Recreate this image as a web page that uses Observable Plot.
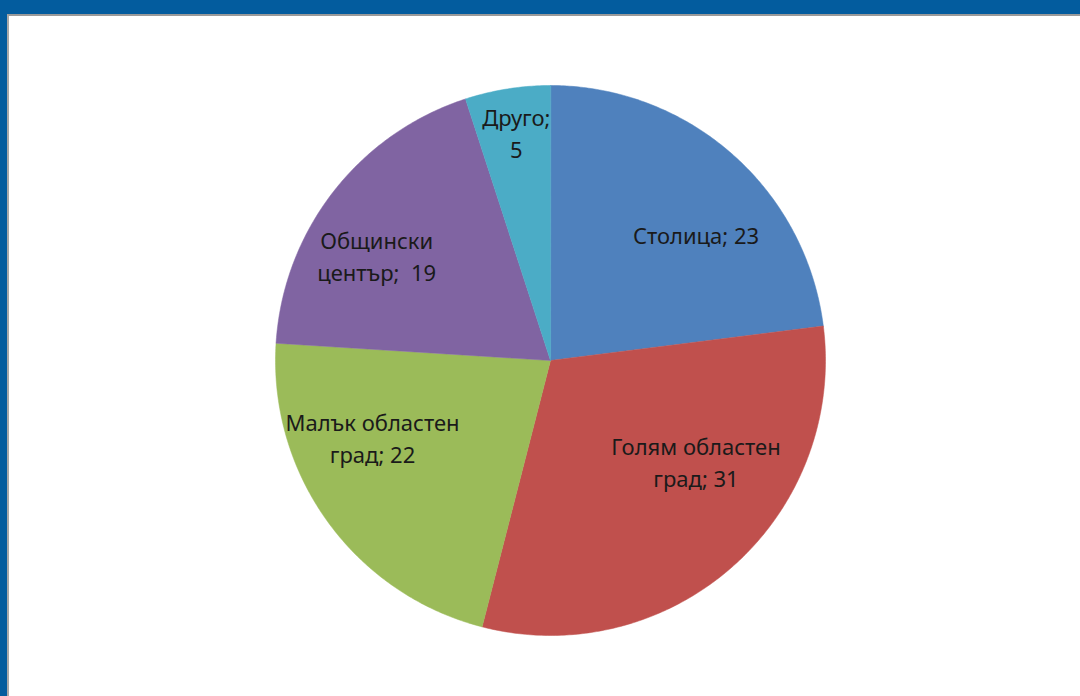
<!DOCTYPE html>
<html>
<head>
<meta charset="utf-8">
<script src="https://cdn.jsdelivr.net/npm/d3@7"></script>
<script src="https://cdn.jsdelivr.net/npm/@observablehq/plot@0.6"></script>
<style>
  html, body { margin: 0; padding: 0; background: #035C9E; }
  #frame { position: relative; width: 1080px; height: 696px; background: #035C9E; overflow: hidden; }
  #inner { position: absolute; left: 7px; top: 14px; right: 0; bottom: 0; background: #fff;
           border-top: 2px solid #9a9a9a; border-left: 2px solid #a8a8a8; }
  #chart { position: absolute; left: 0; top: 0; }
  #chart svg { background: transparent !important; }
</style>
</head>
<body>
<div id="frame"><div id="inner"></div><div id="chart"></div></div>
<script>
// ---- data ----
const categories = ["Столица", "Голям областен град", "Малък областен град", "Общински център", "Друго"];
const values = [23, 31, 22, 19, 5];
const labels = ["Столица; 23", "Голям областен\nград; 31", "Малък областен\nград; 22", "Общински\nцентър;  19", "Друго;\n5"];
const colors = ["#4F81BD", "#C0504D", "#9BBB59", "#8064A2", "#4BACC6"];

// ---- layout ----
const W = 1080, H = 696;
const cx = 550, cy = 360, R = 275;
const fontSize = 22, lineHeight = 1.45, fontFamily = "Noto Sans, sans-serif";
const labelRx = 0.80, labelRy = 0.55;   // elliptical label ring (fraction of radius)
const labelLift = 13;                    // px, labels sit slightly above the ring

const rows = categories.map((c, i) => ({category: c, value: values[i], label: labels[i]}));
const arcs = d3.pie().sort(null).value(d => d.value)(rows);

// slice outlines in unit-circle coordinates (y up)
const pts = [];
for (const a of arcs) {
  const n = Math.max(2, Math.ceil((a.endAngle - a.startAngle) / 0.01));
  pts.push({category: a.data.category, x: 0, y: 0});
  for (let k = 0; k <= n; k++) {
    const t = a.startAngle + (a.endAngle - a.startAngle) * k / n;
    pts.push({category: a.data.category, x: Math.sin(t), y: Math.cos(t)});
  }
}

// label placement: elliptical ring, pushed outward when the wedge is too narrow for the text
const ctx = document.createElement("canvas").getContext("2d");
ctx.font = `${fontSize}px ${fontFamily}`;
const labelPts = arcs.map(a => {
  const m = (a.startAngle + a.endAngle) / 2;
  const half = (a.endAngle - a.startAngle) / 2;
  const lines = a.data.label.split("\n");
  const bw = Math.max(...lines.map(s => ctx.measureText(s).width)) / R;
  const bh = lines.length * fontSize * lineHeight / R;
  let x = labelRx * Math.sin(m), y = labelRy * Math.cos(m);
  const te = Math.hypot(x, y);
  const tw = Math.min(bw / (2 * Math.sin(half)), 1 - bh / 2);
  if (tw > te) { x = tw * Math.sin(m); y = tw * Math.cos(m); }
  return {label: a.data.label, x, y};
});

const chart = Plot.plot({
  width: W, height: H, margin: 0,
  style: {background: "transparent"},
  x: {domain: [-cx / R, (W - cx) / R], axis: null},
  y: {domain: [-(H - cy) / R, cy / R], axis: null},
  color: {domain: categories, range: colors},
  marks: [
    Plot.line(pts, {x: "x", y: "y", z: "category", fill: "category", stroke: "category", strokeWidth: 0.5, curve: "linear-closed"}),
    Plot.text(labelPts, {x: "x", y: "y", text: "label", fontSize, lineHeight, dy: -labelLift,
      fontFamily, fill: "#1a1a1a"})
  ]
});
document.getElementById("chart").appendChild(chart);
</script>
</body>
</html>
